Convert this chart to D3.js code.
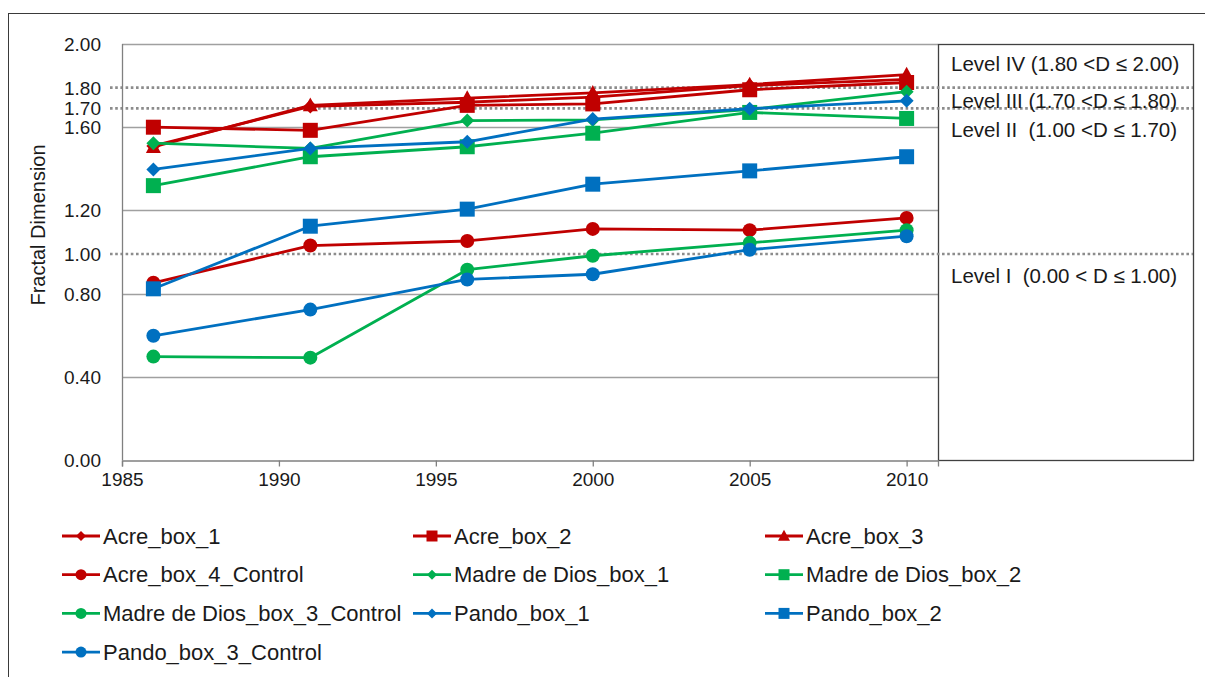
<!DOCTYPE html>
<html>
<head>
<meta charset="utf-8">
<script src="https://cdn.jsdelivr.net/npm/d3@7"></script>
<style>
  html, body { margin: 0; padding: 0; background: #fff; }
  svg { display: block; font-family: "Liberation Sans", Arial, sans-serif; }
  text { white-space: pre; }
</style>
</head>
<body>
<svg id="chart" width="1205" height="677"></svg>
<script>
// ---------------- data ----------------
const years = [1986, 1991, 1996, 2000, 2005, 2010];

const acreBox1 = [1.51, 1.70, 1.72, 1.745, 1.80, 1.83];
const acreBox2 = [1.60, 1.585, 1.705, 1.712, 1.78, 1.815];
const acreBox3 = [1.505, 1.705, 1.74, 1.765, 1.805, 1.853];
const acreBox4Control = [0.852, 1.031, 1.053, 1.111, 1.105, 1.164];
const madreBox1 = [1.523, 1.498, 1.632, 1.635, 1.685, 1.771];
const madreBox2 = [1.319, 1.458, 1.506, 1.571, 1.671, 1.642];
const madreBox3Control = [0.497, 0.492, 0.915, 0.982, 1.044, 1.105];
const pandoBox1 = [1.397, 1.498, 1.530, 1.639, 1.689, 1.727];
const pandoBox2 = [0.823, 1.124, 1.206, 1.326, 1.390, 1.458];
const pandoBox3Control = [0.597, 0.723, 0.868, 0.893, 1.011, 1.076];

const seriesNames = ["Acre_box_1", "Acre_box_2", "Acre_box_3", "Acre_box_4_Control",
  "Madre de Dios_box_1", "Madre de Dios_box_2", "Madre de Dios_box_3_Control",
  "Pando_box_1", "Pando_box_2", "Pando_box_3_Control"];
const seriesValues = [acreBox1, acreBox2, acreBox3, acreBox4Control,
  madreBox1, madreBox2, madreBox3Control, pandoBox1, pandoBox2, pandoBox3Control];
const seriesColorKeys = ["red", "red", "red", "red", "green", "green", "green", "blue", "blue", "blue"];
const seriesMarkers = ["diamond", "square", "triangle", "circle", "diamond", "square", "circle", "diamond", "square", "circle"];

const xTickValues = [1985, 1990, 1995, 2000, 2005, 2010];
const yTickValues = [0.00, 0.40, 0.80, 1.00, 1.20, 1.60, 1.70, 1.80, 2.00];
const yGridValues = [0.40, 0.80, 1.20, 1.60, 2.00];
const levelLineValues = [1.80, 1.70, 1.00];
const levelLabels = ["Level IV (1.80 <D \u2264 2.00)", "Level III (1.70 <D \u2264 1.80)",
  "Level II  (1.00 <D \u2264 1.70)", "Level I  (0.00 < D \u2264 1.00)"];
const levelUpper = [2.00, 1.80, 1.70, 1.00];
const yAxisTitle = "Fractal Dimension";

// ---------------- styles ----------------
const palette = { red: "#C00000", green: "#00B050", blue: "#0070C0" };
const gridColor = "#A0A0A0";
const dotColor = "#8C8C8C";

const svg = d3.select("#chart");

// outer frame
svg.append("rect").attr("x", 8.5).attr("y", 13.5).attr("width", 1400).attr("height", 900)
  .attr("fill", "none").attr("stroke", "#3a3a3a").attr("stroke-width", 1);

const plot = { left: 122, right: 938, top: 44, bottom: 460 };
const x = d3.scaleLinear().domain([1985, 2011]).range([plot.left, plot.right]);
const y = d3.scaleLinear().domain([0, 2]).range([plot.bottom, plot.top]);

// gridlines
svg.append("g").selectAll("line").data(yGridValues).join("line")
  .attr("x1", plot.left).attr("x2", plot.right)
  .attr("y1", d => Math.round(y(d)) + 0.5).attr("y2", d => Math.round(y(d)) + 0.5)
  .attr("stroke", gridColor).attr("stroke-width", 1.3);

// level box
const boxRight = 1193;
svg.append("rect").attr("x", plot.right + 0.5).attr("y", Math.round(y(2)) + 0.5)
  .attr("width", boxRight - plot.right).attr("height", Math.round(y(0)) - Math.round(y(2)))
  .attr("fill", "none").attr("stroke", "#404040").attr("stroke-width", 1.3);

// dotted level lines
const lineShift = 2;
svg.append("g").selectAll("line").data(levelLineValues).join("line")
  .attr("x1", 110).attr("x2", boxRight)
  .attr("y1", d => y(d) + lineShift).attr("y2", d => y(d) + lineShift)
  .attr("stroke", dotColor).attr("stroke-width", 2.6).attr("stroke-dasharray", "2.6,2.6");

// level labels
const labelOffsets = [19, 15, 23, 23];
svg.append("g").selectAll("text").data(levelLabels).join("text")
  .attr("x", 951).attr("y", (d, i) => y(levelUpper[i]) + labelOffsets[i])
  .attr("dominant-baseline", "central")
  .attr("font-size", 20.5).attr("fill", "#1a1a1a").text(d => d);

// x axis
const xAxis = d3.axisBottom(x).tickValues(xTickValues).tickFormat(d3.format("d"))
  .tickSize(6).tickPadding(6);
const gx = svg.append("g").attr("transform", `translate(0,${Math.round(y(0)) + 0.5})`).call(xAxis);
gx.select(".domain").attr("stroke", "#808080").attr("stroke-width", 1.3);
gx.selectAll(".tick line").attr("stroke", "#808080").attr("stroke-width", 1.3);
gx.selectAll(".tick text").attr("font-size", 19).attr("fill", "#1a1a1a")
  .attr("font-family", "Liberation Sans, Arial, sans-serif");

// y axis line
svg.append("line").attr("x1", plot.left + 0.5).attr("x2", plot.left + 0.5)
  .attr("y1", y(2)).attr("y2", y(0)).attr("stroke", "#808080").attr("stroke-width", 1.3);

// y tick labels
const yAxis = d3.axisLeft(y).tickValues(yTickValues).tickFormat(d3.format(".2f"))
  .tickSize(0).tickPadding(21);
const gy = svg.append("g").attr("transform", `translate(${plot.left},0)`).call(yAxis);
gy.select(".domain").remove();
gy.selectAll(".tick").attr("transform", d =>
  `translate(0,${y(d) + (levelLineValues.includes(d) ? lineShift + 1 : 1)})`);
gy.selectAll(".tick text").attr("font-size", 19).attr("fill", "#1a1a1a")
  .attr("font-family", "Liberation Sans, Arial, sans-serif");

// y axis title
svg.append("text").attr("transform", "translate(45,225) rotate(-90)")
  .attr("text-anchor", "middle").attr("font-size", 20).attr("fill", "#1a1a1a").text(yAxisTitle);

// markers
function markerPath(type, s) {
  const p = d3.path();
  if (type === "diamond") {
    const r = s * 0.5;
    p.moveTo(0, -r); p.lineTo(r, 0); p.lineTo(0, r); p.lineTo(-r, 0); p.closePath();
  } else if (type === "square") {
    const r = s * 0.5;
    p.rect(-r, -r, s, s);
  } else if (type === "triangle") {
    const r = s * 0.5;
    p.moveTo(0, -r * 1.05); p.lineTo(r, r * 0.8); p.lineTo(-r, r * 0.8); p.closePath();
  } else {
    p.arc(0, 0, s * 0.5, 0, 2 * Math.PI);
  }
  return p.toString();
}
const plotMarkerSize = { diamond: 14, square: 15, triangle: 15, circle: 14 };
const legendMarkerSize = { diamond: 10, square: 11, triangle: 12, circle: 11 };

const line = d3.line().x((d, i) => x(years[i])).y(d => y(d));

seriesValues.forEach((vals, si) => {
  const col = palette[seriesColorKeys[si]];
  const g = svg.append("g");
  g.append("path").datum(vals).attr("d", line).attr("fill", "none")
    .attr("stroke", col).attr("stroke-width", 2.8).attr("stroke-linejoin", "round");
  g.selectAll("path.m").data(vals).join("path").attr("class", "m")
    .attr("transform", (d, i) => `translate(${x(years[i])},${y(d)})`)
    .attr("d", markerPath(seriesMarkers[si], plotMarkerSize[seriesMarkers[si]]))
    .attr("fill", col);
});

// legend
const legendCols = [62, 413, 765];
const legendRowY0 = 536, legendRowStep = 38.7;
const leg = svg.append("g").selectAll("g").data(seriesNames).join("g")
  .attr("transform", (d, i) => `translate(${legendCols[i % 3]},${legendRowY0 + Math.floor(i / 3) * legendRowStep})`);
leg.append("line").attr("x1", 0).attr("x2", 38).attr("y1", 0).attr("y2", 0)
  .attr("stroke", (d, i) => palette[seriesColorKeys[i]]).attr("stroke-width", 2.8);
leg.append("path").attr("transform", "translate(19,0)")
  .attr("d", (d, i) => markerPath(seriesMarkers[i], legendMarkerSize[seriesMarkers[i]]))
  .attr("fill", (d, i) => palette[seriesColorKeys[i]]);
leg.append("text").attr("x", 41).attr("y", 0).attr("dominant-baseline", "central")
  .attr("font-size", 22).attr("fill", "#1a1a1a").text(d => d);
</script>
</body>
</html>
